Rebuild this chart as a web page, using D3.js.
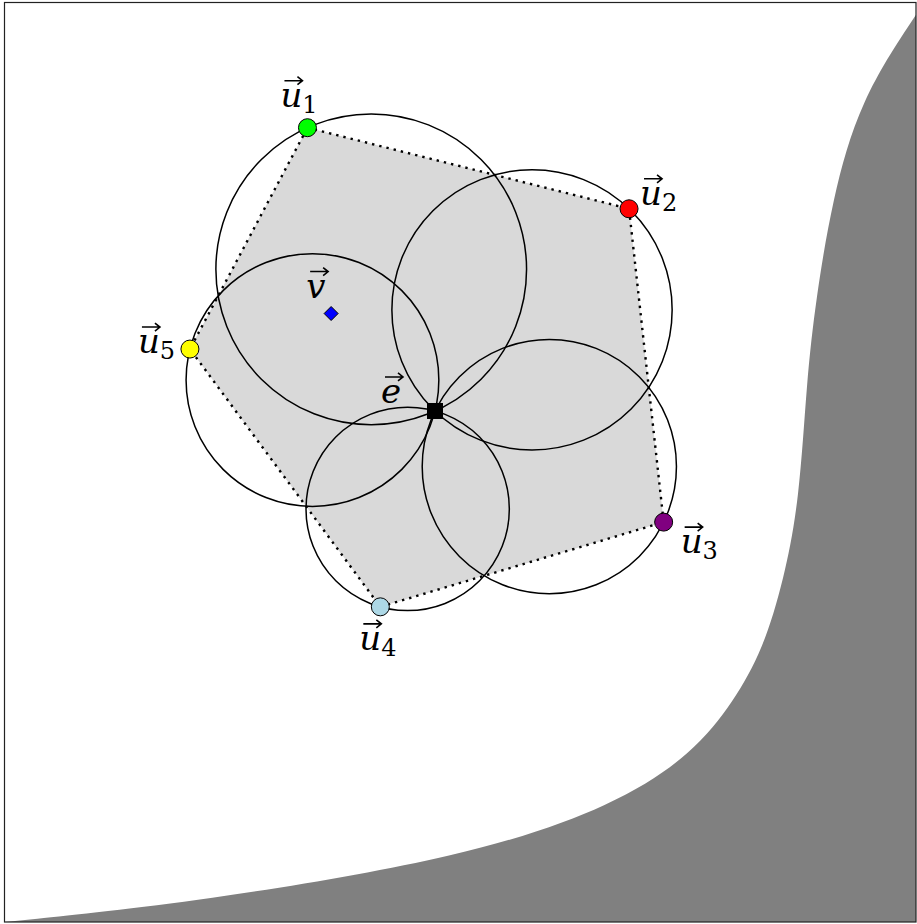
<!DOCTYPE html>
<html>
<head>
<meta charset="utf-8">
<script src="https://cdn.jsdelivr.net/npm/d3@7"></script>
<style>
  body { margin: 0; background: #fff; }
  svg { display: block; }
  text.lbl { font-family: "DejaVu Serif", "Noto Serif", serif; }
</style>
</head>
<body>
<div id="chart"></div>
<script>
// vertices of the pentagon u1..u5 (plane units)
const vertexNames = ["1", "2", "3", "4", "5"];
const vertexX = [3.32, 6.85, 7.23, 4.12, 2.03];
const vertexY = [8.72, 7.83, 4.39, 3.46, 6.29];
const vertexColors = ["#00ff00", "#ff0000", "#800080", "#add8e6", "#ffff00"];

// the point e (common to all circles) and the point v
const pointE = [4.72, 5.61];
const pointV = [3.58, 6.68];

// boundary of the shaded obstacle region (B-spline control points)
const boundaryX = [0, 2.14, 5.10, 6.70, 7.55, 8.00, 8.32, 8.55, 8.72, 8.80, 8.90, 9.08, 9.38, 10.0];
const boundaryY = [0, 0.22, 0.72, 1.28, 1.85, 2.42, 2.99, 3.76, 4.63, 5.95, 6.83, 7.93, 9.02, 9.96];

const width = 917, height = 924;

let x = d3.scaleLinear().domain([0, 10]).range([5, 916]);
let y = d3.scaleLinear().domain([0, 10.1]).range([922, 2]);

let svg = d3.select("#chart")
    .append("svg")
    .attr("width", width)
    .attr("height", height);

// shaded region on the right
let boundary = boundaryX.map((d, i) => [d, boundaryY[i]]);
let line = d3.line()
    .x(d => x(d[0]))
    .y(d => y(d[1]))
    .curve(d3.curveBasis);
let areaPath = line(boundary) + "L" + x(10) + "," + y(10.1) + "L" + x(10) + "," + y(0) + "Z";
svg.append("path")
    .attr("d", areaPath)
    .attr("fill", "#808080");

// pentagon
let verts = vertexX.map((d, i) => ({name: vertexNames[i], x: d, y: vertexY[i], color: vertexColors[i]}));
svg.append("path")
    .attr("d", d3.line().x(d => x(d.x)).y(d => y(d.y))(verts) + "Z")
    .attr("fill", "#d9d9d9")
    .attr("stroke", "black")
    .attr("stroke-width", 2.4)
    .attr("stroke-dasharray", "2.4,5");

// circles with diameter e - u_i
svg.selectAll("circle.thales")
    .data(verts)
    .join("circle")
    .attr("class", "thales")
    .attr("cx", d => (x(d.x) + x(pointE[0])) / 2)
    .attr("cy", d => (y(d.y) + y(pointE[1])) / 2)
    .attr("r", d => Math.hypot(x(d.x) - x(pointE[0]), y(d.y) - y(pointE[1])) / 2)
    .attr("fill", "none")
    .attr("stroke", "black")
    .attr("stroke-width", 1.5);

// vertex markers
svg.selectAll("circle.vertex")
    .data(verts)
    .join("circle")
    .attr("class", "vertex")
    .attr("cx", d => x(d.x))
    .attr("cy", d => y(d.y))
    .attr("r", 9)
    .attr("fill", d => d.color)
    .attr("stroke", "black")
    .attr("stroke-width", 1);

// e : black square
svg.append("rect")
    .attr("x", x(pointE[0]) - 8)
    .attr("y", y(pointE[1]) - 8)
    .attr("width", 16)
    .attr("height", 16)
    .attr("fill", "black");

// v : blue diamond
let vx = x(pointV[0]), vy = y(pointV[1]);
svg.append("path")
    .attr("d", `M${vx},${vy - 7}L${vx + 7},${vy}L${vx},${vy + 7}L${vx - 7},${vy}Z`)
    .attr("fill", "#0000ff")
    .attr("stroke", "black")
    .attr("stroke-width", 1);

// labels: offset of the letter's left/baseline from its point
const labelOffsets = {"1": [-27, -21], "2": [11, -4], "3": [17, 31], "4": [-21, 43], "5": [-52, 4]};

function vecLabel(px, py, letter, sub) {
    let g = svg.append("g");
    let t = g.append("text")
        .attr("class", "lbl")
        .attr("x", px)
        .attr("y", py)
        .attr("font-size", 34);
    t.append("tspan").attr("font-style", "italic").text(letter);
    if (sub) {
        t.append("tspan")
            .attr("font-size", 24)
            .attr("dy", 6)
            .text(sub);
    }
    // arrow over the letter
    let ax0 = px + 4, ax1 = px + 22, ay = py - 26;
    g.append("path")
        .attr("d", `M${ax0},${ay}L${ax1},${ay}M${ax1 - 5},${ay - 4}L${ax1},${ay}L${ax1 - 5},${ay + 4}`)
        .attr("fill", "none")
        .attr("stroke", "black")
        .attr("stroke-width", 1.6);
}

verts.forEach(d => {
    let o = labelOffsets[d.name];
    vecLabel(x(d.x) + o[0], y(d.y) + o[1], "u", d.name);
});
vecLabel(x(pointV[0]) - 25, y(pointV[1]) - 16, "v", null);
vecLabel(x(pointE[0]) - 54, y(pointE[1]) - 8, "e", null);

// frame
svg.append("rect")
    .attr("x", 4.5)
    .attr("y", 2.5)
    .attr("width", 911.5)
    .attr("height", 919.5)
    .attr("fill", "none")
    .attr("stroke", "#222")
    .attr("stroke-width", 1.2);
</script>
</body>
</html>
